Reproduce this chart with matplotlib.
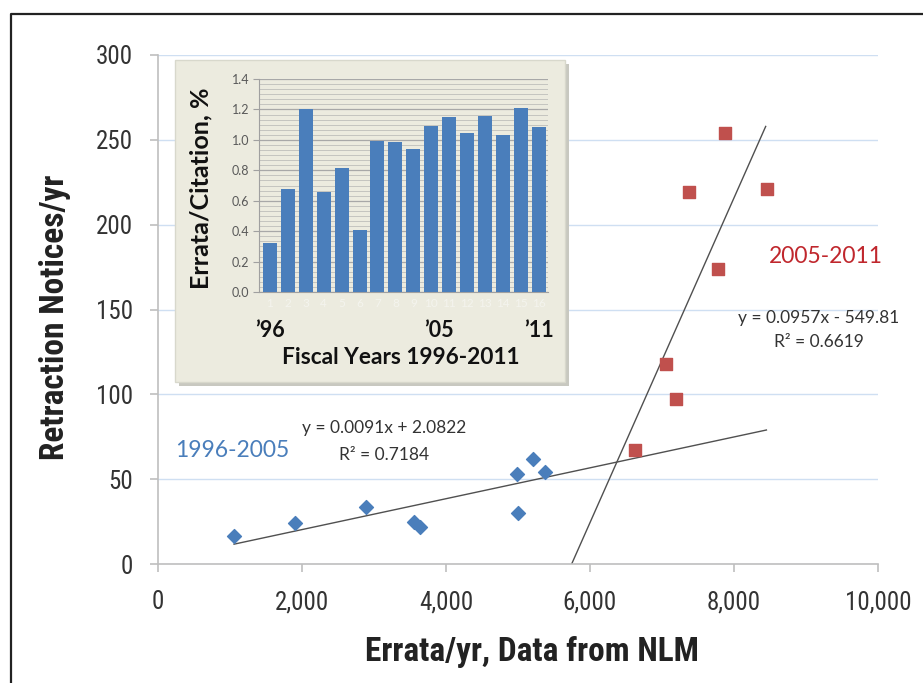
import numpy as np
import matplotlib
matplotlib.use("Agg")
import matplotlib.pyplot as plt
from matplotlib.patches import Rectangle
from matplotlib.lines import Line2D
from matplotlib.ticker import MultipleLocator, FuncFormatter

# ---------------- datos ----------------
errata_96_05 = [1056, 1903, 2889, 3556, 3639, 4986, 5000, 5208, 5375]
retract_96_05 = [16.5, 24, 33.6, 24.7, 21.8, 53, 30, 62, 54]

errata_05_11 = [6620, 7051, 7194, 7371, 7771, 7880, 8454]
retract_05_11 = [67.2, 117.9, 97, 219.4, 173.7, 253.8, 220.8]

# recta de ajuste (Excel)
fit_azul = (0.0091, 2.0822)
fit_rojo = (0.0957, -549.81)
rango_azul = (1056, 8450)
rango_rojo = (5745, 8440)

years = [str(i) for i in range(1, 17)]
errata_cit = [0.32, 0.68, 1.20, 0.66, 0.816, 0.405, 0.993, 0.985,
              0.94, 1.09, 1.15, 1.048, 1.157, 1.033, 1.208, 1.085]

AZUL = "#4a7ebb"
ROJO = "#c0504d"
GRIS = "#bfbfbf"
NARROW = ["Roboto Condensed", "DejaVu Sans"]
CALIBRI = ["Lato", "DejaVu Sans"]

fig = plt.figure(figsize=(9.23, 6.83), dpi=100)

# marco exterior (izquierda y arriba)
fig.add_artist(Line2D([11/923, 11/923, 922/923], [0, 1-14/683, 1-14/683],
                      transform=fig.transFigure, color="#222222", lw=1.6))

# ---------------- grafico principal ----------------
ax = fig.add_axes([158/923, 1-564/683, 720/923, 509/683])
ax.set_xlim(0, 10000)
ax.set_ylim(0, 300)
ax.set_xticks(range(0, 10001, 2000))
ax.set_yticks(range(0, 301, 50))
ax.xaxis.set_major_formatter(FuncFormatter(lambda v, p: f"{int(v):,}"))
for s in ["top", "right"]:
    ax.spines[s].set_visible(False)
for s in ["left", "bottom"]:
    ax.spines[s].set_color(GRIS)
    ax.spines[s].set_linewidth(1.2)
ax.tick_params(axis="both", colors=GRIS, length=6, width=1.2, direction="out")
ax.tick_params(axis="y", pad=12, labelcolor="#333333", labelsize=18)
ax.tick_params(axis="x", pad=13, labelcolor="#333333", labelsize=18)
for lab in ax.get_xticklabels() + ax.get_yticklabels():
    lab.set_family(NARROW)
    lab.set_stretch("condensed")
ax.grid(axis="y", color="#cfdff2", lw=1)
ax.set_axisbelow(True)

ax.scatter(errata_96_05, retract_96_05, marker="D", s=50, color=AZUL, zorder=3)
ax.scatter(errata_05_11, retract_05_11, marker="s", s=75, color=ROJO, zorder=3)

xa = np.array(rango_azul)
ax.plot(xa, fit_azul[0]*xa + fit_azul[1], color="#505050", lw=1, zorder=2)
xr = np.array(rango_rojo)
ax.plot(xr, fit_rojo[0]*xr + fit_rojo[1], color="#505050", lw=1, zorder=2)

ax.text(9280, 181, "2005-2011", color="#c0272d", fontsize=16.5, family=CALIBRI,
        ha="center", va="center")
ax.text(1030, 67, "1996-2005", color=AZUL, fontsize=16.5, family=CALIBRI,
        ha="center", va="center")
ax.text(9180, 145, "y = 0.0957x - 549.81", color="#333333", fontsize=12.5,
        family=CALIBRI, ha="center", va="center")
ax.text(9180, 131, "R² = 0.6619", color="#333333", fontsize=12.5,
        family=CALIBRI, ha="center", va="center")
ax.text(3140, 80, "y = 0.0091x + 2.0822", color="#333333", fontsize=12.5,
        family=CALIBRI, ha="center", va="center")
ax.text(3140, 64, "R² = 0.7184", color="#333333", fontsize=12.5,
        family=CALIBRI, ha="center", va="center")

fig.text(55/923, 1-317/683, "Retraction Notices/yr", rotation=90,
         fontsize=24, fontweight="bold", family=NARROW, stretch="condensed",
         color="#222222", ha="center", va="center")
fig.text(532/923, 1-652/683, "Errata/yr, Data from NLM",
         fontsize=24, fontweight="bold", family=NARROW, stretch="condensed",
         color="#222222", ha="center", va="center")

# ---------------- recuadro (inset) ----------------
bx, by, bw, bh = 175/923, 1-382/683, 390/923, 322/683
sombra = Rectangle((bx + 4/923, by - 4/683), bw, bh, transform=fig.transFigure,
                   facecolor="#c8c8c0", edgecolor="none", zorder=1)
caja = Rectangle((bx, by), bw, bh, transform=fig.transFigure,
                 facecolor="#ecebdf", edgecolor="#d8d8cc", lw=1, zorder=1.1)
fig.add_artist(sombra)
fig.add_artist(caja)

ins = fig.add_axes([259/923, 1-292/683, 289/923, 213/683], zorder=2)
ins.patch.set_alpha(0)
pos = np.arange(len(years))
ins.bar(pos, errata_cit, width=0.78, color=AZUL, zorder=3)
ins.set_xlim(-0.6, 15.5)
ins.set_ylim(0, 1.4)
ins.yaxis.set_major_locator(MultipleLocator(0.2))
ins.yaxis.set_minor_locator(MultipleLocator(0.2/6))
ins.yaxis.set_major_formatter(FuncFormatter(lambda v, p: f"{v:.1f}"))
ins.grid(axis="y", which="major", color="#a8a8a8", lw=0.9)
ins.grid(axis="y", which="minor", color="#c4c4c0", lw=0.7)
ins.set_axisbelow(True)
for s in ["top", "right"]:
    ins.spines[s].set_visible(False)
for s in ["left", "bottom"]:
    ins.spines[s].set_color("#a0a0a0")
ins.tick_params(axis="y", which="major", length=4, color="#a0a0a0",
                labelsize=9, labelcolor="#595959", pad=3)
ins.tick_params(axis="y", which="minor", length=0)
ins.set_xticks(pos)
ins.set_xticklabels(years, color="#f4f4ee", fontsize=8.5, family=CALIBRI)
ins.tick_params(axis="x", length=0, pad=4)
for lab in ins.get_yticklabels():
    lab.set_family(CALIBRI)

for xx, t in [(0, "’96"), (9.4, "’05"), (15, "’11")]:
    ins.text(xx, -0.25, t, fontsize=15.5, fontweight="bold", family=CALIBRI,
             color="#111111", ha="center", va="center", clip_on=False)

fig.text(401/923, 1-358/683, "Fiscal Years 1996-2011", fontsize=16.3,
         fontweight="bold", family=CALIBRI, color="#111111",
         ha="center", va="center", zorder=3)
fig.text(201/923, 1-188/683, "Errata/Citation, %", rotation=90, fontsize=18,
         fontweight="bold", family=CALIBRI, color="#111111",
         ha="center", va="center", zorder=3)

fig.savefig("out.png", dpi=100)
